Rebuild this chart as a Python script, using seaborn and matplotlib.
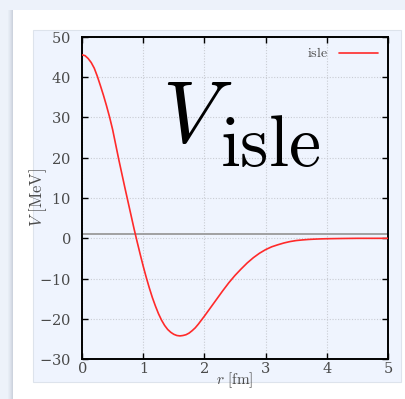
import matplotlib
matplotlib.use("Agg")
import matplotlib.pyplot as plt
from matplotlib.patches import Rectangle
import seaborn as sns
import pandas as pd

# Isle potential V(r) read at sample radii
r_fm = [0.00, 0.05, 0.10, 0.15, 0.20, 0.25, 0.30, 0.35, 0.40, 0.45, 0.50,
        0.55, 0.60, 0.65, 0.70, 0.75, 0.80, 0.85, 0.90, 0.95, 1.00, 1.05,
        1.10, 1.15, 1.20, 1.25, 1.30, 1.35, 1.40, 1.45, 1.50, 1.55, 1.60,
        1.65, 1.70, 1.75, 1.80, 1.85, 1.90, 1.95, 2.00, 2.10, 2.20, 2.30,
        2.40, 2.50, 2.60, 2.70, 2.80, 2.90, 3.00, 3.10, 3.20, 3.30, 3.40,
        3.50, 3.60, 3.70, 3.80, 3.90, 4.00, 4.25, 4.50, 5.00]
v_mev = [45.5, 45.3, 44.6, 43.6, 42.2, 40.2, 37.9, 35.5, 32.9, 30.1, 27.0,
         23.3, 19.6, 16.1, 12.6, 9.2, 5.8, 2.4, -0.8, -3.9, -6.9, -9.7,
         -12.3, -14.7, -16.8, -18.7, -20.3, -21.6, -22.6, -23.3, -23.8, -24.1,
         -24.2, -24.1, -23.9, -23.5, -22.9, -22.2, -21.3, -20.3, -19.3, -17.2,
         -15.1, -13.0, -11.0, -9.2, -7.6, -6.1, -4.8, -3.7, -2.8, -2.1, -1.6,
         -1.15, -0.8, -0.55, -0.4, -0.28, -0.2, -0.14, -0.1, -0.04, 0.0, 0.0]
reference_level = 1.0
x_ticks = [0, 1, 2, 3, 4, 5]
y_ticks = [-30, -20, -10, 0, 10, 20, 30, 40, 50]
series_name = "isle"

sns.set_theme(style="ticks")
plt.rcParams["mathtext.fontset"] = "cm"
plt.rcParams["axes.formatter.use_mathtext"] = True
plt.rcParams["font.family"] = ["DejaVu Serif"]

W, H = 405, 399
fig = plt.figure(figsize=(W / 100, H / 100), dpi=100, facecolor="#edf2fa")

def px_rect(x0, y0, x1, y1, **kw):
    fig.patches.append(Rectangle((x0 / W, 1 - y1 / H), (x1 - x0) / W, (y1 - y0) / H,
                                 transform=fig.transFigure, zorder=-5, **kw))

# card with soft left shadow
for i, a in enumerate([0.05, 0.1, 0.16, 0.24, 0.32]):
    px_rect(8 + i, 10, 9 + i, H, facecolor="#8a93a3", alpha=a, edgecolor="none")
px_rect(13, 10, W, H, facecolor="white", edgecolor="none")
# inner panel
px_rect(33, 30, 401, 382, facecolor="#eff4fe", edgecolor="#dde3ec", linewidth=0.8)

ax_left, ax_top, ax_w, ax_h = 82, 36.7, 306, 322.6
ax = fig.add_axes([ax_left / W, 1 - (ax_top + ax_h) / H, ax_w / W, ax_h / H])
ax.set_facecolor("#eff4fe")

df = pd.DataFrame({"r": r_fm, "V": v_mev})
ax.axhline(reference_level, color="#9a9a9a", lw=1.3, zorder=2)
sns.lineplot(data=df, x="r", y="V", ax=ax, color="#ff2a2a", lw=1.2,
             label=r"$\mathrm{" + series_name + "}$", zorder=3)

ax.set_xlim(0, 5)
ax.set_ylim(-30, 50)
ax.set_xticks(x_ticks)
ax.set_yticks(y_ticks)
ax.grid(True, color="#c9ccd3", linestyle=(0, (1, 1.5)), lw=0.8)
for s in ax.spines.values():
    s.set_visible(True)
    s.set_color("black")
    s.set_linewidth(1.4)
ax.tick_params(direction="in", length=4, width=1, color="black",
               top=True, right=True, labelsize=10.5, labelcolor="#4a4a4a")
ax.tick_params(axis="x", pad=1)
ax.tick_params(axis="y", pad=8)

ax.set_xlabel(r"$r\ \mathrm{[fm]}$", fontsize=11, color="#4a4a4a", labelpad=-4)
ax.set_ylabel(r"$V\ \mathrm{[MeV]}$", fontsize=12, color="#4a4a4a")
ax.yaxis.set_label_coords((49 - ax_left) / ax_w, 0.5)

leg = ax.legend(loc="upper right", markerfirst=False, frameon=False,
                fontsize=10, handlelength=2.8, borderaxespad=0.3,
                handletextpad=0.8)
for t in leg.get_texts():
    t.set_color("#4a4a4a")

# large title glyph: italic V with roman subscript
def ax_px(x, y):
    return (x - ax_left) / ax_w, (ax_top + ax_h - y) / ax_h

vx, vy = ax_px(162, 142)
ax.text(vx, vy, r"$V$", transform=ax.transAxes, fontsize=64, color="black",
        ha="left", va="baseline", zorder=4)
sx, sy = ax_px(220, 166)
ax.text(sx, sy, r"$\mathrm{isle}$", transform=ax.transAxes, fontsize=52,
        color="black", ha="left", va="baseline", zorder=4)

fig.savefig("out.png", dpi=100, facecolor=fig.get_facecolor())
